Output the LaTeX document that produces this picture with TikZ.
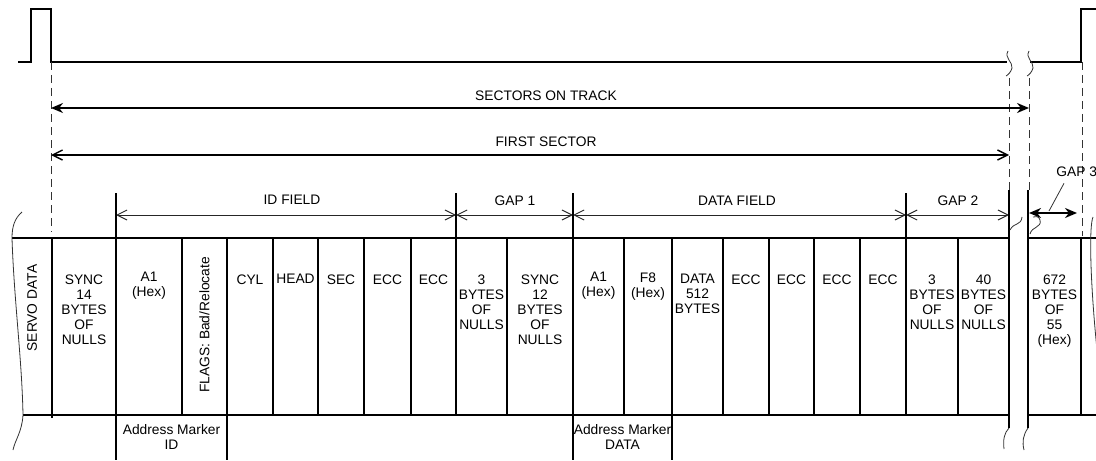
\documentclass[tikz,border=0pt]{standalone}
\usepackage{fontspec}
\setmainfont{Liberation Sans}
\usetikzlibrary{arrows.meta}

\begin{document}
\begin{tikzpicture}[x=0.5pt, y=-0.5pt,
  wave/.style={draw=black, line width=1pt},
  cellline/.style={draw=black, line width=1pt},
  guide/.style={draw=black!80, line width=0.5pt, dash pattern=on 4pt off 2.5pt},
  brk/.style={draw=black!80, line width=0.4pt},
  span/.style={draw=black!85, line width=0.5pt, {Straight Barb[length=5pt,width=5pt]}-{Straight Barb[length=5pt,width=5pt]}},
  midspan/.style={draw=black, line width=0.7pt, {Straight Barb[length=5pt,width=5pt]}-{Straight Barb[length=5pt,width=5pt]}},
  bigspan/.style={draw=black, line width=1.2pt, {Stealth[length=6pt,width=5pt]}-{Stealth[length=6pt,width=5pt]}},
  lbl/.style={font=\fontsize{6.9}{7.5}\selectfont, inner sep=0pt},
  cell/.style={font=\fontsize{6.9}{7.5}\selectfont, align=center, anchor=north, inner sep=0pt}
]
\useasboundingbox (0,0) rectangle (1096,460);

% servo pulses on top
\draw[wave] (18,62) -- (31,62) -- (31,9) -- (51,9) -- (51,62) -- (1007,62);
\draw[wave] (1030,62) -- (1081,62) -- (1081,9) -- (1097,9);
\draw[brk] (1008,51) .. controls (1004,58) and (1013,62) .. (1012,68) .. controls (1011,72) and (1008,75) .. (1006,76);
\draw[brk] (1029,51) .. controls (1025,58) and (1034,62) .. (1033,68) .. controls (1032,72) and (1029,75) .. (1027,76);

% dashed guides
\draw[guide] (51,62) -- (51,232);
\draw[guide] (1009,78) -- (1009,190);
\draw[guide] (1029,78) -- (1029,190);
\draw[guide] (1082,62) -- (1082,236);

% spans
\coordinate (s1) at (51,108);
\coordinate (s2) at (1029,108);
\coordinate (t1) at (51,155);
\coordinate (t2) at (1009,155);
\coordinate (f1) at (116,215);
\coordinate (f2) at (456,215);
\coordinate (f3) at (573,215);
\coordinate (f4) at (906,215);
\coordinate (f5) at (1009,215);
\coordinate (g1) at (1029,213);
\coordinate (g2) at (1077,213);
\coordinate (gtip) at (1049,211);

\node[lbl] (sectors) at (546,96) {SECTORS ON TRACK};
\node[lbl] (firstsec) at (546,142) {FIRST SECTOR};
\node[lbl] (idfield) at (292,200) {ID FIELD};
\node[lbl] (gap1) at (515,201) {GAP 1};
\node[lbl] (datafield) at (737,201) {DATA FIELD};
\node[lbl] (gap2) at (958,201) {GAP 2};
\node[lbl, anchor=west] (gap3) at (1056,172) {GAP 3};

\draw[bigspan] (s1) -- (s2);
\draw[midspan] (t1) -- (t2);
\draw[span] (f1) -- (f2);
\draw[span] (f2) -- (f3);
\draw[span] (f3) -- (f4);
\draw[span] (f4) -- (f5);
\draw[bigspan] (g1) -- (g2);
\draw[brk] (gtip) -- ([xshift=4pt,yshift=-3pt]gap3.south west);

% sector format row
\draw[cellline] (12,238) -- (1009,238) (1028,238) -- (1097,238);
\draw[cellline] (23,415) -- (1009,415) (1028,415) -- (1097,415);
\draw[cellline] (52,238) -- (52,418)
  (116,193) -- (116,460)
  (182,238) -- (182,415)
  (227,238) -- (227,460)
  (273,238) -- (273,415)
  (318,238) -- (318,415)
  (364,238) -- (364,415)
  (411,238) -- (411,415)
  (456,193) -- (456,415)
  (507,238) -- (507,415)
  (573,193) -- (573,460)
  (624,238) -- (624,415)
  (672,238) -- (672,460)
  (723,238) -- (723,415)
  (769,238) -- (769,415)
  (814,238) -- (814,415)
  (860,238) -- (860,415)
  (906,193) -- (906,415)
  (958,238) -- (958,415)
  (1009,190) -- (1009,428)
  (1028,190) -- (1028,428)
  (1081,238) -- (1081,415);

% break marks
\draw[brk] (22,212) .. controls (15,218) and (12,226) .. (12,238) .. controls (14,300) and (22,360) .. (23,415) .. controls (22,432) and (15,440) .. (13,450);
\draw[brk] (1010,230) .. controls (1014,222) and (1021,226) .. (1022,217);
\draw[brk] (1030,234) .. controls (1032,226) and (1042,228) .. (1040,220) .. controls (1039,216) and (1035,216) .. (1033,217);
\draw[brk] (1009,428) .. controls (1004,433) and (1003,440) .. (1004,449);
\draw[brk] (1028,428) .. controls (1023,435) and (1022,442) .. (1024,450);
\draw[brk] (1093,217) .. controls (1089,226) and (1090,280) .. (1097,350);

% cell texts
\node[lbl, rotate=90] (servo) at (32,308) {SERVO DATA};
\node[cell] (sync14) at (84,274) {SYNC\\14\\BYTES\\OF\\NULLS};
\node[cell] (a1id) at (149,272) {A1\\(Hex)};
\node[lbl, rotate=90] (flags) at (204.5,325) {FLAGS: Bad/Relocate};
\node[cell] (cyl) at (250,274) {CYL};
\node[cell] (head) at (295.5,274) {HEAD};
\node[cell] (sec) at (341,274) {SEC};
\node[cell] (ecc1) at (387.5,274) {ECC};
\node[cell] (ecc2) at (433.5,274) {ECC};
\node[cell] (nulls3a) at (481.5,274) {3\\BYTES\\OF\\NULLS};
\node[cell] (sync12) at (540,274) {SYNC\\12\\BYTES\\OF\\NULLS};
\node[cell] (a1data) at (598.5,272) {A1\\(Hex)};
\node[cell] (f8) at (648,272) {F8\\(Hex)};
\node[cell] (data512) at (697.5,274) {DATA\\512\\BYTES};
\node[cell] (ecc3) at (746,274) {ECC};
\node[cell] (ecc4) at (791.5,274) {ECC};
\node[cell] (ecc5) at (837,274) {ECC};
\node[cell] (ecc6) at (883,274) {ECC};
\node[cell] (nulls3b) at (932,274) {3\\BYTES\\OF\\NULLS};
\node[cell] (nulls40) at (983.5,274) {40\\BYTES\\OF\\NULLS};
\node[cell] (fill55) at (1054.5,274) {672\\BYTES\\OF\\55\\(Hex)};

% address markers
\node[cell] (amid) at (171.5,424) {Address Marker\\ID};
\node[cell] (amdata) at (622.5,424) {Address Marker\\DATA};
\end{tikzpicture}
\end{document}
